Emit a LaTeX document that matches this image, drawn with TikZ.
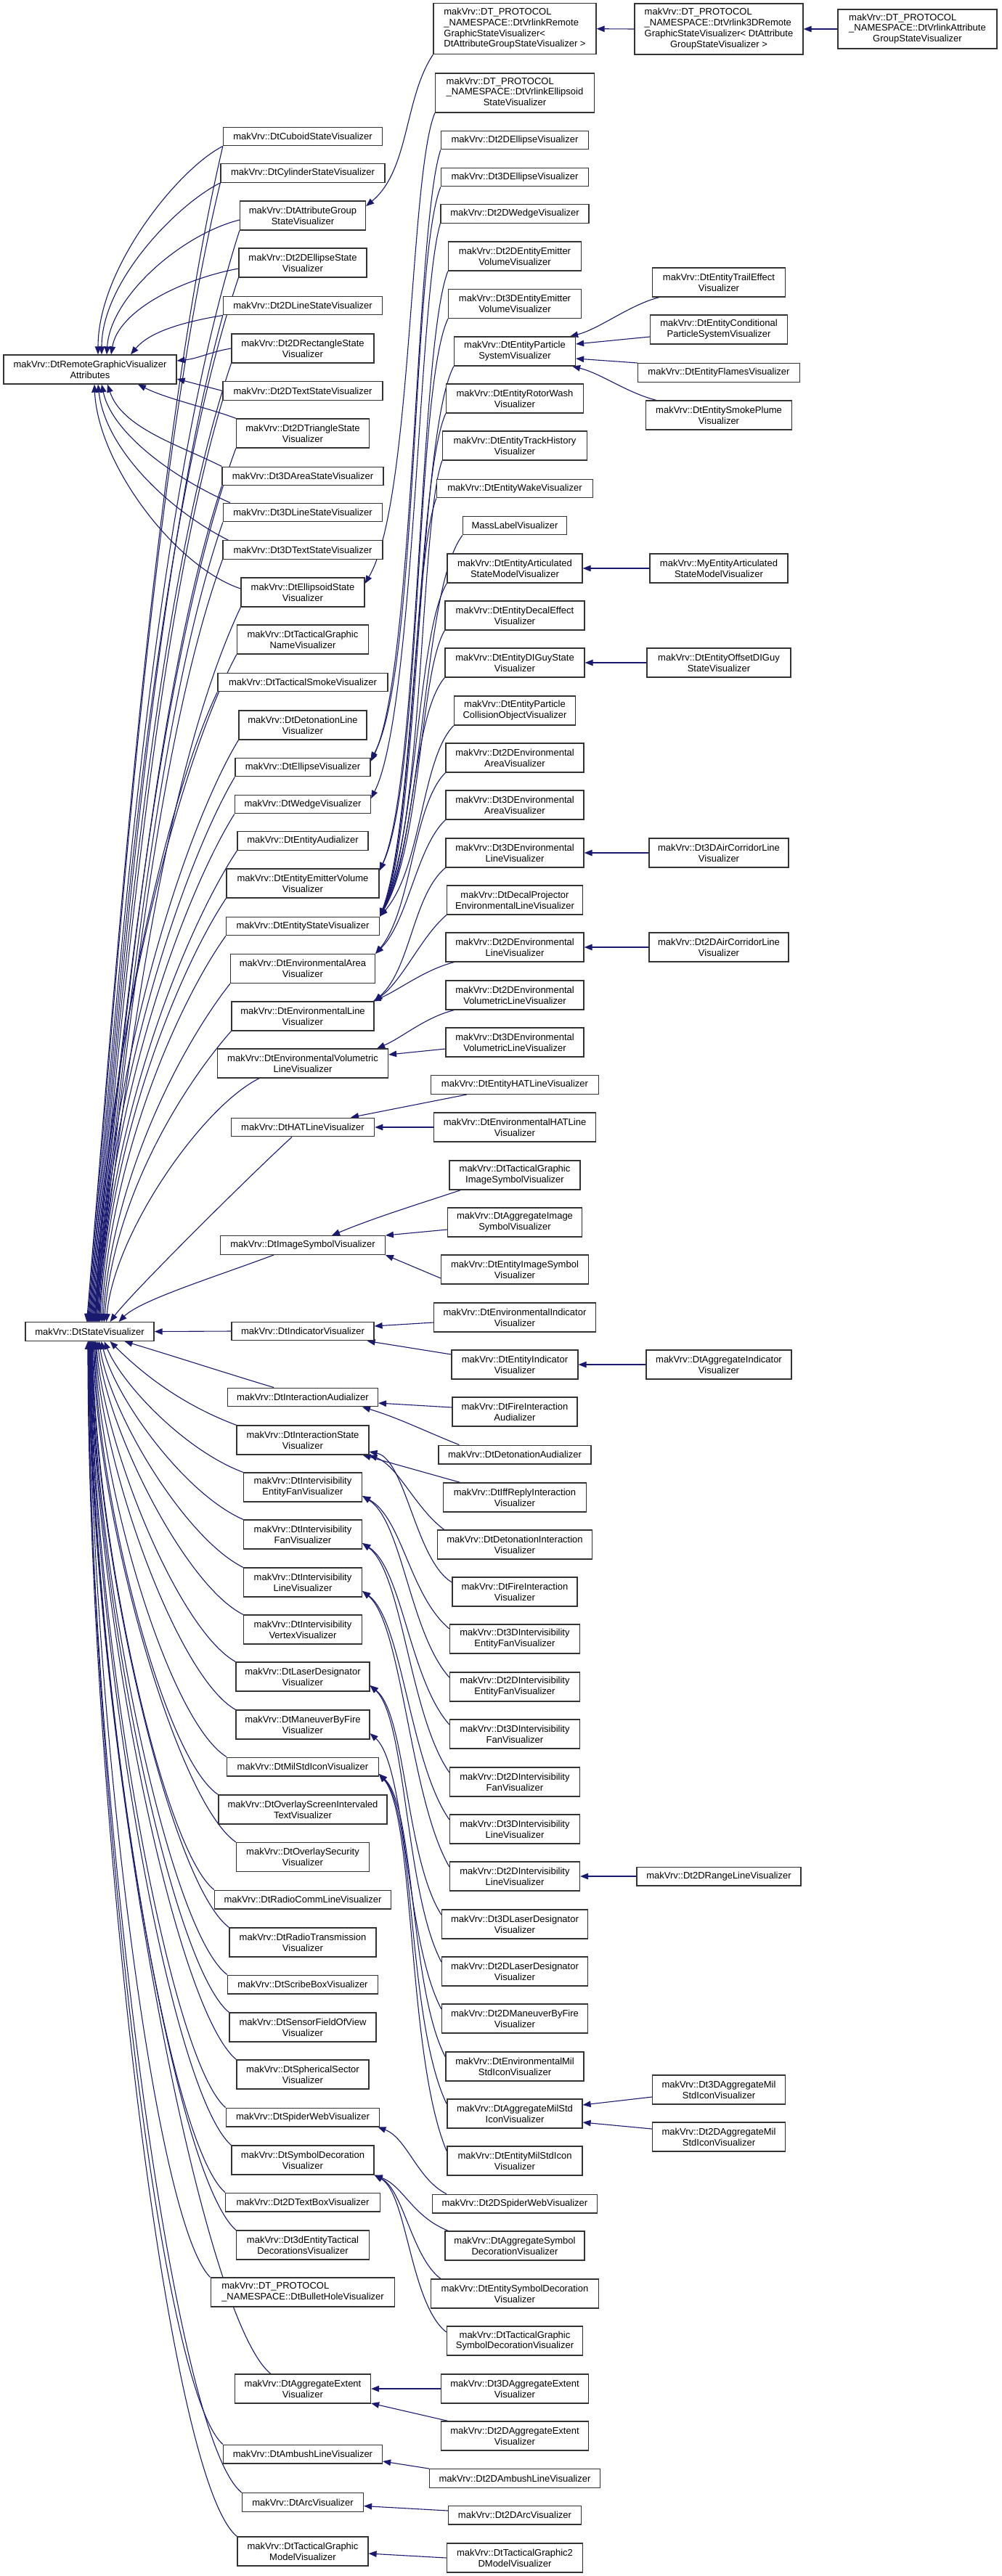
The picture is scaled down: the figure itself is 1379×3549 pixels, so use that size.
\documentclass[tikz,border=0pt]{standalone}
\usepackage{fontspec}
\setmainfont{Liberation Sans}
\usetikzlibrary{arrows.meta,backgrounds}
\definecolor{edgeblue}{HTML}{191970}
\newcommand{\mkdt}[1]{\begin{tabular}{@{}l@{}}#1\end{tabular}}
\newcommand{\mkcl}[1]{\multicolumn{1}{@{}c@{}}{#1}}
\tikzset{
  cls/.style={draw=black!80, fill=white, line width=1.25pt, inner sep=1pt, align=center, font=\fontsize{13}{14.8}\selectfont},
  n1/.style={minimum height=25.7},
  n2/.style={minimum height=40},
  n3/.style={minimum height=54},
  n4/.style={minimum height=70},
  inh/.style={draw=edgeblue, line width=1.1pt, -{Triangle[length=11pt,width=8.5pt]}},
}
\begin{document}
\begin{tikzpicture}[x=1pt,y=-1pt]
\useasboundingbox (0,0) rectangle (1379,3549);
% ---------- column 1
\node[cls,n2,minimum width=238] (rgva) at (124,509) {makVrv::DtRemoteGraphicVisualizer\\Attributes};
\node[cls,n1,minimum width=177] (sv) at (123.5,1834.5) {makVrv::DtStateVisualizer};
% ---------- column 2
\node[cls,n1,minimum width=219] (cub) at (417,188) {makVrv::DtCuboidStateVisualizer};
\node[cls,n1,minimum width=226] (cyl) at (417,238.5) {makVrv::DtCylinderStateVisualizer};
\node[cls,n2,minimum width=173] (agsv) at (417,297) {makVrv::DtAttributeGroup\\StateVisualizer};
\node[cls,n2,minimum width=176] (e2s) at (417,362) {makVrv::Dt2DEllipseState\\Visualizer};
\node[cls,n1,minimum width=219] (l2s) at (417,421) {makVrv::Dt2DLineStateVisualizer};
\node[cls,n2,minimum width=196] (r2s) at (417,480) {makVrv::Dt2DRectangleState\\Visualizer};
\node[cls,n1,minimum width=220] (t2s) at (417,538.5) {makVrv::Dt2DTextStateVisualizer};
\node[cls,n2,minimum width=183] (tr2s) at (417,597) {makVrv::Dt2DTriangleState\\Visualizer};
\node[cls,n1,minimum width=222] (a3s) at (417,656) {makVrv::Dt3DAreaStateVisualizer};
\node[cls,n1,minimum width=219] (l3s) at (417,706) {makVrv::Dt3DLineStateVisualizer};
\node[cls,n1,minimum width=220] (t3s) at (417,757.6) {makVrv::Dt3DTextStateVisualizer};
\node[cls,n2,minimum width=170] (ells) at (417,816) {makVrv::DtEllipsoidState\\Visualizer};
\node[cls,n2,minimum width=181] (tgn) at (417,881) {makVrv::DtTacticalGraphic\\NameVisualizer};
\node[cls,n1,minimum width=234] (tsm) at (417,940) {makVrv::DtTacticalSmokeVisualizer};
\node[cls,n2,minimum width=176] (detl) at (417,999) {makVrv::DtDetonationLine\\Visualizer};
\node[cls,n1,minimum width=186] (ellv) at (417,1057) {makVrv::DtEllipseVisualizer};
\node[cls,n1,minimum width=187] (wedv) at (417,1108) {makVrv::DtWedgeVisualizer};
\node[cls,n1,minimum width=180] (eaud) at (417,1158.6) {makVrv::DtEntityAudializer};
\node[cls,n2,minimum width=210] (eev) at (417,1217) {makVrv::DtEntityEmitterVolume\\Visualizer};
\node[cls,n1,minimum width=211] (esv) at (417,1276) {makVrv::DtEntityStateVisualizer};
\node[cls,n2,minimum width=199] (envA) at (417,1334.6) {makVrv::DtEnvironmentalArea\\Visualizer};
\node[cls,n2,minimum width=196] (envL) at (417,1400) {makVrv::DtEnvironmentalLine\\Visualizer};
\node[cls,n2,minimum width=235] (envV) at (417,1465) {makVrv::DtEnvironmentalVolumetric\\LineVisualizer};
\node[cls,n1,minimum width=197.5] (hat) at (417,1553) {makVrv::DtHATLineVisualizer};
\node[cls,n1,minimum width=226.6] (img) at (417,1715.5) {makVrv::DtImageSymbolVisualizer};
\node[cls,n1,minimum width=196] (ind) at (417,1834) {makVrv::DtIndicatorVisualizer};
\node[cls,n1,minimum width=206.7] (iaud) at (417,1925) {makVrv::DtInteractionAudializer};
\node[cls,n2,minimum width=181.8] (ist) at (417,1984) {makVrv::DtInteractionState\\Visualizer};
\node[cls,n2,minimum width=163] (ief) at (417,2049) {makVrv::DtIntervisibility\\EntityFanVisualizer};
\node[cls,n2,minimum width=163] (ifan) at (417,2114) {makVrv::DtIntervisibility\\FanVisualizer};
\node[cls,n2,minimum width=163] (iline) at (417,2180) {makVrv::DtIntervisibility\\LineVisualizer};
\node[cls,n2,minimum width=163] (ivert) at (417,2245) {makVrv::DtIntervisibility\\VertexVisualizer};
\node[cls,n2,minimum width=184] (laser) at (417,2310) {makVrv::DtLaserDesignator\\Visualizer};
\node[cls,n2,minimum width=184] (mbf) at (417,2376) {makVrv::DtManeuverByFire\\Visualizer};
\node[cls,n1,minimum width=208.6] (mil) at (417,2434) {makVrv::DtMilStdIconVisualizer};
\node[cls,n2,minimum width=232] (osi) at (417,2493) {makVrv::DtOverlayScreenIntervaled\\TextVisualizer};
\node[cls,n2,minimum width=183] (osec) at (417,2558.5) {makVrv::DtOverlaySecurity\\Visualizer};
\node[cls,n1,minimum width=243] (rcl) at (417,2617) {makVrv::DtRadioCommLineVisualizer};
\node[cls,n2,minimum width=202] (rtx) at (417,2676) {makVrv::DtRadioTransmission\\Visualizer};
\node[cls,n1,minimum width=207] (scr) at (417,2734) {makVrv::DtScribeBoxVisualizer};
\node[cls,n2,minimum width=202] (sfov) at (417,2793) {makVrv::DtSensorFieldOfView\\Visualizer};
\node[cls,n2,minimum width=182] (ssec) at (417,2858) {makVrv::DtSphericalSector\\Visualizer};
\node[cls,n1,minimum width=211.6] (spw) at (417,2917) {makVrv::DtSpiderWebVisualizer};
\node[cls,n2,minimum width=196] (sdec) at (417,2976) {makVrv::DtSymbolDecoration\\Visualizer};
\node[cls,n1,minimum width=212.8] (tb2) at (417,3034) {makVrv::Dt2DTextBoxVisualizer};
\node[cls,n2,minimum width=183] (tac3) at (417,3093) {makVrv::Dt3dEntityTactical\\DecorationsVisualizer};
\node[cls,n2,minimum width=253.7] (bul) at (417,3158) {\mkdt{makVrv::DT\_PROTOCOL\\\_NAMESPACE::DtBulletHoleVisualizer}};
\node[cls,n2,minimum width=187] (aext) at (417,3291) {makVrv::DtAggregateExtent\\Visualizer};
\node[cls,n1,minimum width=219] (amb) at (417,3381) {makVrv::DtAmbushLineVisualizer};
\node[cls,n1,minimum width=167] (arc) at (417,3447.5) {makVrv::DtArcVisualizer};
\node[cls,n2,minimum width=180] (tgm) at (417,3515) {makVrv::DtTacticalGraphic\\ModelVisualizer};
% ---------- column 3
\node[cls,n4,minimum width=224] (vrg) at (709,39.7) {\mkdt{makVrv::DT\_PROTOCOL\\\_NAMESPACE::DtVrlinkRemote\\GraphicStateVisualizer<\\\mkcl{DtAttributeGroupStateVisualizer >}}};
\node[cls,n3,minimum width=219] (vre) at (709,128) {\mkdt{makVrv::DT\_PROTOCOL\\\_NAMESPACE::DtVrlinkEllipsoid\\\mkcl{StateVisualizer}}};
\node[cls,n1,minimum width=203] (e2v) at (709,193) {makVrv::Dt2DEllipseVisualizer};
\node[cls,n1,minimum width=203] (e3v) at (709,244) {makVrv::Dt3DEllipseVisualizer};
\node[cls,n1,minimum width=204] (w2v) at (709,294.5) {makVrv::Dt2DWedgeVisualizer};
\node[cls,n2,minimum width=183] (eev2) at (709,353) {makVrv::Dt2DEntityEmitter\\VolumeVisualizer};
\node[cls,n2,minimum width=183] (eev3) at (709,418.6) {makVrv::Dt3DEntityEmitter\\VolumeVisualizer};
\node[cls,n2,minimum width=167] (eps) at (709,484) {makVrv::DtEntityParticle\\SystemVisualizer};
\node[cls,n2,minimum width=189] (rot) at (709,549) {makVrv::DtEntityRotorWash\\Visualizer};
\node[cls,n2,minimum width=199] (trk) at (709,614) {makVrv::DtEntityTrackHistory\\Visualizer};
\node[cls,n1,minimum width=215] (wake) at (709,673) {makVrv::DtEntityWakeVisualizer};
\node[cls,n1,minimum width=143] (mass) at (709,724) {MassLabelVisualizer};
\node[cls,n2,minimum width=186] (art) at (709,783) {makVrv::DtEntityArticulated\\StateModelVisualizer};
\node[cls,n2,minimum width=192] (decal) at (709,848) {makVrv::DtEntityDecalEffect\\Visualizer};
\node[cls,n2,minimum width=192] (digu) at (709,913) {makVrv::DtEntityDIGuyState\\Visualizer};
\node[cls,n2,minimum width=167] (pco) at (709,979) {makVrv::DtEntityParticle\\CollisionObjectVisualizer};
\node[cls,n2,minimum width=190] (ea2) at (709,1044) {makVrv::Dt2DEnvironmental\\AreaVisualizer};
\node[cls,n2,minimum width=190] (ea3) at (709,1109) {makVrv::Dt3DEnvironmental\\AreaVisualizer};
\node[cls,n2,minimum width=190] (el3) at (709,1175) {makVrv::Dt3DEnvironmental\\LineVisualizer};
\node[cls,n2,minimum width=187] (dpel) at (709,1240) {makVrv::DtDecalProjector\\EnvironmentalLineVisualizer};
\node[cls,n2,minimum width=190] (el2) at (709,1305) {makVrv::Dt2DEnvironmental\\LineVisualizer};
\node[cls,n2,minimum width=190] (ev2) at (709,1371) {makVrv::Dt2DEnvironmental\\VolumetricLineVisualizer};
\node[cls,n2,minimum width=190] (ev3) at (709,1436) {makVrv::Dt3DEnvironmental\\VolumetricLineVisualizer};
\node[cls,n1,minimum width=231] (ehat) at (709,1494.5) {makVrv::DtEntityHATLineVisualizer};
\node[cls,n2,minimum width=223] (envhat) at (709,1553) {makVrv::DtEnvironmentalHATLine\\Visualizer};
\node[cls,n2,minimum width=180] (tgis) at (709,1619) {makVrv::DtTacticalGraphic\\ImageSymbolVisualizer};
\node[cls,n2,minimum width=185] (aggis) at (709,1684) {makVrv::DtAggregateImage\\SymbolVisualizer};
\node[cls,n2,minimum width=203] (entis) at (709,1749) {makVrv::DtEntityImageSymbol\\Visualizer};
\node[cls,n2,minimum width=223] (envind) at (709,1815) {makVrv::DtEnvironmentalIndicator\\Visualizer};
\node[cls,n2,minimum width=174] (entind) at (709,1880) {makVrv::DtEntityIndicator\\Visualizer};
\node[cls,n2,minimum width=172] (fia) at (709,1945) {makVrv::DtFireInteraction\\Audializer};
\node[cls,n1,minimum width=210] (deta) at (709,2004) {makVrv::DtDetonationAudializer};
\node[cls,n2,minimum width=197] (iff) at (709,2063) {makVrv::DtIffReplyInteraction\\Visualizer};
\node[cls,n2,minimum width=213.5] (deti) at (709,2128) {makVrv::DtDetonationInteraction\\Visualizer};
\node[cls,n2,minimum width=172] (fiv) at (709,2193) {makVrv::DtFireInteraction\\Visualizer};
\node[cls,n2,minimum width=179] (ief3) at (709,2258) {makVrv::Dt3DIntervisibility\\EntityFanVisualizer};
\node[cls,n2,minimum width=179] (ief2) at (709,2324) {makVrv::Dt2DIntervisibility\\EntityFanVisualizer};
\node[cls,n2,minimum width=179] (ifan3) at (709,2389) {makVrv::Dt3DIntervisibility\\FanVisualizer};
\node[cls,n2,minimum width=179] (ifan2) at (709,2455) {makVrv::Dt2DIntervisibility\\FanVisualizer};
\node[cls,n2,minimum width=179] (il3) at (709,2520) {makVrv::Dt3DIntervisibility\\LineVisualizer};
\node[cls,n2,minimum width=179] (il2) at (709,2585) {makVrv::Dt2DIntervisibility\\LineVisualizer};
\node[cls,n2,minimum width=201] (ld3) at (709,2651) {makVrv::Dt3DLaserDesignator\\Visualizer};
\node[cls,n2,minimum width=201] (ld2) at (709,2716) {makVrv::Dt2DLaserDesignator\\Visualizer};
\node[cls,n2,minimum width=201] (mbf2) at (709,2781) {makVrv::Dt2DManeuverByFire\\Visualizer};
\node[cls,n2,minimum width=190] (envmil) at (709,2847) {makVrv::DtEnvironmentalMil\\StdIconVisualizer};
\node[cls,n2,minimum width=186] (aggmil) at (709,2912) {makVrv::DtAggregateMilStd\\IconVisualizer};
\node[cls,n2,minimum width=186] (entmil) at (709,2977) {makVrv::DtEntityMilStdIcon\\Visualizer};
\node[cls,n1,minimum width=227] (spw2) at (709,3036) {makVrv::Dt2DSpiderWebVisualizer};
\node[cls,n2,minimum width=192] (aggsd) at (709,3094) {makVrv::DtAggregateSymbol\\DecorationVisualizer};
\node[cls,n2,minimum width=231] (entsd) at (709,3160) {makVrv::DtEntitySymbolDecoration\\Visualizer};
\node[cls,n2,minimum width=187.5] (tgsd) at (709,3225) {makVrv::DtTacticalGraphic\\SymbolDecorationVisualizer};
\node[cls,n2,minimum width=203] (aext3) at (709,3291) {makVrv::Dt3DAggregateExtent\\Visualizer};
\node[cls,n2,minimum width=203] (aext2) at (709,3356) {makVrv::Dt2DAggregateExtent\\Visualizer};
\node[cls,n1,minimum width=235] (amb2) at (709,3414.5) {makVrv::Dt2DAmbushLineVisualizer};
\node[cls,n1,minimum width=183] (arc2) at (709,3465) {makVrv::Dt2DArcVisualizer};
\node[cls,n2,minimum width=187.5] (tg2d) at (709,3524) {makVrv::DtTacticalGraphic2\\DModelVisualizer};
% ---------- column 4
\node[cls,n4,minimum width=232] (v3d) at (990,40) {\mkdt{makVrv::DT\_PROTOCOL\\\_NAMESPACE::DtVrlink3DRemote\\GraphicStateVisualizer< DtAttribute\\\mkcl{GroupStateVisualizer >}}};
\node[cls,n2,minimum width=183] (trail) at (990,389) {makVrv::DtEntityTrailEffect\\Visualizer};
\node[cls,n2,minimum width=189] (cond) at (990,454) {makVrv::DtEntityConditional\\ParticleSystemVisualizer};
\node[cls,n1,minimum width=223] (flames) at (990,513.5) {makVrv::DtEntityFlamesVisualizer};
\node[cls,n2,minimum width=201] (smoke) at (990,572) {makVrv::DtEntitySmokePlume\\Visualizer};
\node[cls,n2,minimum width=190] (myart) at (990,783) {makVrv::MyEntityArticulated\\StateModelVisualizer};
\node[cls,n2,minimum width=198] (offdi) at (990,913) {makVrv::DtEntityOffsetDIGuy\\StateVisualizer};
\node[cls,n2,minimum width=192] (air3) at (990,1175) {makVrv::Dt3DAirCorridorLine\\Visualizer};
\node[cls,n2,minimum width=192] (air2) at (990,1305) {makVrv::Dt2DAirCorridorLine\\Visualizer};
\node[cls,n2,minimum width=200] (aggind) at (990,1880) {makVrv::DtAggregateIndicator\\Visualizer};
\node[cls,n1,minimum width=226] (range) at (990,2585) {makVrv::Dt2DRangeLineVisualizer};
\node[cls,n2,minimum width=183] (aggmil3) at (990,2879) {makVrv::Dt3DAggregateMil\\StdIconVisualizer};
\node[cls,n2,minimum width=183] (aggmil2) at (990,2944) {makVrv::Dt2DAggregateMil\\StdIconVisualizer};
% ---------- column 5
\node[cls,n3,minimum width=219] (vag) at (1263.5,40) {\mkdt{makVrv::DT\_PROTOCOL\\\_NAMESPACE::DtVrlinkAttribute\\\mkcl{GroupStateVisualizer}}};

\begin{pgfonlayer}{background}
\fill[white] (0,0) rectangle (1379,3549);
% ---- to RemoteGraphicVisualizerAttributes
\draw[inh] (cub.south west) .. controls +(-60,30) and +(0,-120) .. ([xshift=11pt]rgva.north);
\draw[inh] (cyl.south west) .. controls +(-60,30) and +(0,-100) .. ([xshift=16pt]rgva.north);
\draw[inh] ([yshift=-6pt]agsv.west) .. controls +(-80,20) and +(5,-80) .. ([xshift=23pt]rgva.north);
\draw[inh] ([yshift=-8pt]e2s.west) .. controls +(-80,15) and +(10,-60) .. ([xshift=29pt]rgva.north);
\draw[inh] (l2s.south west) .. controls +(-60,10) and +(25,-30) .. ([xshift=56pt]rgva.north);
\draw[inh] (r2s.west) .. controls +(-30,5) and +(30,-3) .. ([yshift=12pt]rgva.east);
\draw[inh] (t2s.west) -- ([yshift=-13pt]rgva.east);
\draw[inh] (tr2s.north west) .. controls +(-40,-15) and +(40,20) .. ([xshift=66pt]rgva.south);
\draw[inh] (a3s.north west) .. controls +(-60,-30) and +(20,60) .. ([xshift=24pt]rgva.south);
\draw[inh] ([xshift=10pt]l3s.north west) .. controls +(-70,-30) and +(15,70) .. ([xshift=16pt]rgva.south);
\draw[inh] ([xshift=8pt]t3s.north west) .. controls +(-80,-40) and +(10,90) .. ([xshift=11pt]rgva.south);
\draw[inh] ([yshift=5pt]ells.west) .. controls +(-90,-30) and +(5,110) .. ([xshift=6pt]rgva.south);
% ---- to StateVisualizer (from above)
\draw[inh] (cub.south west) .. controls +(-95,405) and +(40,-486) .. ([xshift=-4pt]sv.north);
\draw[inh] (cyl.south west) .. controls +(-95,392) and +(40,-471) .. ([xshift=-3pt]sv.north);
\draw[inh] (agsv.south west) .. controls +(-120,376) and +(40,-452) .. ([xshift=-2pt]sv.north);
\draw[inh] (e2s.south west) .. controls +(-120,360) and +(40,-432) .. ([xshift=-1pt]sv.north);
\draw[inh] (l2s.south west) .. controls +(-95,347) and +(40,-416) .. (sv.north);
\draw[inh] (r2s.south west) .. controls +(-110,330) and +(40,-397) .. ([xshift=1pt]sv.north);
\draw[inh] (t2s.south west) .. controls +(-95,318) and +(40,-381) .. ([xshift=2pt]sv.north);
\draw[inh] (tr2s.south west) .. controls +(-110,301) and +(40,-362) .. ([xshift=3pt]sv.north);
\draw[inh] (a3s.south west) .. controls +(-95,288) and +(40,-346) .. ([xshift=4pt]sv.north);
\draw[inh] (l3s.south west) .. controls +(-95,276) and +(40,-331) .. ([xshift=5pt]sv.north);
\draw[inh] (t3s.south west) .. controls +(-95,263) and +(40,-316) .. ([xshift=6pt]sv.north);
\draw[inh] (ells.south west) .. controls +(-115,246) and +(40,-296) .. ([xshift=7pt]sv.north);
\draw[inh] (tgn.south west) .. controls +(-70,130) and +(15,-414) .. ([xshift=8pt]sv.north);
\draw[inh] (tsm.south west) .. controls +(-60,124) and +(15,-391) .. ([xshift=9pt]sv.north);
\draw[inh] (detl.south west) .. controls +(-70,116) and +(15,-361) .. ([xshift=10pt]sv.north);
\draw[inh] (ellv.south west) .. controls +(-65,110) and +(15,-338) .. ([xshift=11pt]sv.north);
\draw[inh] (wedv.south west) .. controls +(-65,104) and +(15,-316) .. ([xshift=12pt]sv.north);
\draw[inh] (eaud.south west) .. controls +(-65,98) and +(15,-293) .. ([xshift=13pt]sv.north);
\draw[inh] (eev.south west) .. controls +(-60,90) and +(15,-263) .. ([xshift=14pt]sv.north);
\draw[inh] (esv.south west) .. controls +(-60,84) and +(15,-240) .. ([xshift=16pt]sv.north);
\draw[inh] (envA.south west) .. controls +(-60,76) and +(15,-210) .. ([xshift=18pt]sv.north);
\draw[inh] (envL.south west) .. controls +(-60,68) and +(15,-181) .. ([xshift=20pt]sv.north);
\draw[inh] ([xshift=-60pt]envV.south) .. controls +(-80,40) and +(10,-120) .. ([xshift=23pt]sv.north);
\draw[inh] ([xshift=-15pt]hat.south) .. controls +(-60,55) and +(30,-40) .. ([xshift=28pt]sv.north);
\draw[inh] ([xshift=-40pt]img.south) .. controls +(-80,30) and +(30,-30) .. ([xshift=40pt]sv.north);
\draw[inh] (ind.west) -- (sv.east);
% ---- to StateVisualizer (from below)
\draw[inh] ([xshift=-40pt]iaud.north) .. controls +(-60,-18) and +(60,18) .. ([xshift=48pt]sv.south);
\draw[inh] (ist.north west) .. controls +(-80,-30) and +(40,40) .. ([xshift=28pt]sv.south);
\draw[inh] (ief.north west) .. controls +(-80,-30) and +(25,60) .. ([xshift=20pt]sv.south);
\draw[inh] (ifan.north west) .. controls +(-80,-35) and +(20,80) .. ([xshift=16pt]sv.south);
\draw[inh] (iline.north west) .. controls +(-80,-40) and +(15,100) .. ([xshift=13pt]sv.south);
\draw[inh] (ivert.north west) .. controls +(-80,-40) and +(12,120) .. ([xshift=11pt]sv.south);
\draw[inh] (laser.north west) .. controls +(-80,-45) and +(10,140) .. ([xshift=9pt]sv.south);
\draw[inh] (mbf.north west) .. controls +(-80,-45) and +(8,170) .. ([xshift=8pt]sv.south);
\draw[inh] (mil.north west) .. controls +(-80,-50) and +(7,200) .. ([xshift=7pt]sv.south);
\draw[inh] (osi.north west) .. controls +(-75,-50) and +(6,220) .. ([xshift=6pt]sv.south);
\draw[inh] (osec.north west) .. controls +(-80,-55) and +(5,250) .. ([xshift=5pt]sv.south);
\draw[inh] (rcl.north west) .. controls +(-70,-55) and +(4,280) .. ([xshift=4pt]sv.south);
\draw[inh] (rtx.north west) .. controls +(-80,-60) and +(4,300) .. ([xshift=3.5pt]sv.south);
\draw[inh] (scr.north west) .. controls +(-80,-60) and +(3,320) .. ([xshift=3pt]sv.south);
\draw[inh] (sfov.north west) .. controls +(-80,-65) and +(3,340) .. ([xshift=2.5pt]sv.south);
\draw[inh] (ssec.north west) .. controls +(-85,-70) and +(2,360) .. ([xshift=2pt]sv.south);
\draw[inh] (spw.north west) .. controls +(-80,-70) and +(2,390) .. ([xshift=1.5pt]sv.south);
\draw[inh] (sdec.north west) .. controls +(-85,-75) and +(1,410) .. ([xshift=1pt]sv.south);
\draw[inh] (tb2.north west) .. controls +(-85,-75) and +(1,430) .. ([xshift=0.5pt]sv.south);
\draw[inh] (tac3.north west) .. controls +(-90,-80) and +(0,450) .. (sv.south);
\draw[inh] (bul.north west) .. controls +(-80,-80) and +(0,470) .. ([xshift=-0.5pt]sv.south);
\draw[inh] ([xshift=50pt]aext.north west) .. controls +(-100,-80) and +(0,520) .. ([xshift=-1pt]sv.south);
\draw[inh] (amb.north west) .. controls +(-90,-80) and +(0,560) .. ([xshift=-1.5pt]sv.south);
\draw[inh] (arc.north west) .. controls +(-100,-80) and +(0,580) .. ([xshift=-2pt]sv.south);
\draw[inh] (tgm.north west) .. controls +(-100,-80) and +(0,600) .. ([xshift=-2.5pt]sv.south);
% ---- column 3 to column 2
\draw[inh] (vrg.south west) .. controls +(-40,60) and +(60,-50) .. ([yshift=13pt]agsv.east);
\draw[inh] (vre.south west) .. controls +(-35,85) and +(65,-110) .. ([yshift=12pt]ells.east);
\draw[inh] (e2v.south west) .. controls +(-35,104) and +(60,-120) .. ([yshift=8pt]ellv.east);
\draw[inh] (e3v.south west) .. controls +(-40,99) and +(65,-120) .. ([yshift=10pt]ellv.east);
\draw[inh] (w2v.south west) .. controls +(-30,99) and +(60,-120) .. ([yshift=8pt]wedv.east);
\draw[inh] (eev2.south west) .. controls +(-40,103) and +(55,-120) .. ([yshift=-3pt]eev.north east);
\draw[inh] (eev3.south west) .. controls +(-45,96) and +(58,-120) .. ([yshift=-3pt]eev.north east);
\draw[inh] (eps.south west) .. controls +(-50,96) and +(55,-120) .. (esv.north east);
\draw[inh] (rot.south west) .. controls +(-40,89) and +(50,-120) .. (esv.north east);
\draw[inh] (trk.south west) .. controls +(-30,83) and +(60,-120) .. (esv.north east);
\draw[inh] (wake.south west) .. controls +(-30,78) and +(45,-120) .. (esv.north east);
\draw[inh] (mass.south west) .. controls +(-55,73) and +(62,-120) .. (esv.north east);
\draw[inh] (art.south west) .. controls +(-40,66) and +(52,-115) .. (esv.north east);
\draw[inh] (decal.south west) .. controls +(-35,60) and +(58,-99) .. (esv.north east);
\draw[inh] (digu.south west) .. controls +(-45,53) and +(48,-83) .. (esv.north east);
\draw[inh] (pco.south west) .. controls +(-45,46) and +(58,-66) .. (esv.north east);
\draw[inh] (ea2.south west) .. controls +(-45,45) and +(50,-60) .. (envA.north east);
\draw[inh] (ea3.south west) .. controls +(-40,38) and +(45,-45) .. (envA.north east);
\draw[inh] (el3.south west) .. controls +(-45,38) and +(50,-45) .. (envL.north east);
\draw[inh] (dpel.south west) .. controls +(-35,30) and +(40,-30) .. (envL.north east);
\draw[inh] ([xshift=12pt]el2.south west) .. controls +(-40,10) and +(35,-15) .. ([xshift=-2pt]envL.north east);
\draw[inh] ([xshift=12pt]ev2.south west) .. controls +(-40,10) and +(35,-15) .. ([xshift=-16pt]envV.north east);
\draw[inh] ([yshift=-9pt]ev3.west) -- ([yshift=12pt]envV.east);
\draw[inh] ([xshift=50pt]ehat.south west) -- ([xshift=66pt]hat.north);
\draw[inh] (envhat.west) -- (hat.east);
\draw[inh] ([xshift=16pt]tgis.south west) .. controls +(-60,20) and +(60,-25) .. ([xshift=40pt]img.north);
\draw[inh] ([yshift=-10pt]aggis.west) -- (img.north east);
\draw[inh] ([yshift=-12pt]entis.west) -- (img.south east);
\draw[inh] ([yshift=-7pt]envind.west) -- ([yshift=7pt]ind.east);
\draw[inh] ([yshift=14pt]entind.west) -- ([xshift=-10pt]ind.south east);
\draw[inh] ([yshift=6pt]fia.west) -- ([yshift=-8pt]iaud.east);
\draw[inh] ([xshift=29pt]deta.north west) .. controls +(-50,-20) and +(50,15) .. ([xshift=-22pt]iaud.south east);
\draw[inh] ([xshift=24pt]iff.north west) -- ([xshift=-9pt]ist.south east);
\draw[inh] ([xshift=10pt]deti.north west) .. controls +(-40,-30) and +(40,15) .. (ist.south east);
\draw[inh] ([yshift=13pt]fiv.west) .. controls +(-50,-30) and +(50,10) .. ([yshift=-16pt]ist.east);
\draw[inh] ([yshift=14pt]ief3.west) .. controls +(-55,-46) and +(55,30) .. ([yshift=-12pt]ief.east);
\draw[inh] ([yshift=13pt]ief2.west) .. controls +(-55,-62) and +(55,35) .. ([yshift=-12pt]ief.east);
\draw[inh] ([yshift=13pt]ifan3.west) .. controls +(-55,-62) and +(55,35) .. ([yshift=-12pt]ifan.east);
\draw[inh] ([yshift=13pt]ifan2.west) .. controls +(-55,-79) and +(55,40) .. ([yshift=-12pt]ifan.east);
\draw[inh] ([yshift=13pt]il3.west) .. controls +(-55,-79) and +(55,40) .. ([yshift=-12pt]iline.east);
\draw[inh] ([yshift=13pt]il2.west) .. controls +(-55,-95) and +(55,45) .. ([yshift=-12pt]iline.east);
\draw[inh] ([yshift=13pt]ld3.west) .. controls +(-50,-79) and +(50,40) .. ([yshift=-12pt]laser.east);
\draw[inh] ([yshift=13pt]ld2.west) .. controls +(-50,-95) and +(50,45) .. ([yshift=-12pt]laser.east);
\draw[inh] ([yshift=13pt]mbf2.west) .. controls +(-50,-95) and +(50,45) .. ([yshift=-12pt]mbf.east);
\draw[inh] ([yshift=13pt]envmil.west) .. controls +(-50,-97) and +(50,46) .. ([yshift=-10pt]mil.east);
\draw[inh] ([yshift=13pt]aggmil.west) .. controls +(-55,-114) and +(50,51) .. ([yshift=-10pt]mil.east);
\draw[inh] ([yshift=13pt]entmil.west) .. controls +(-55,-130) and +(50,57) .. ([yshift=-10pt]mil.east);
\draw[inh] ([xshift=20pt]spw2.north west) .. controls +(-40,-20) and +(40,15) .. ([xshift=-3pt]spw.south east);
\draw[inh] ([xshift=5pt]aggsd.north west) .. controls +(-50,-20) and +(40,15) .. (sdec.south east);
\draw[inh] ([xshift=14pt]entsd.north west) .. controls +(-40,-30) and +(40,20) .. (sdec.south east);
\draw[inh] ([yshift=12pt]tgsd.west) .. controls +(-50,-40) and +(45,25) .. (sdec.south east);
\draw[inh] (aext3.west) -- (aext.east);
\draw[inh] ([xshift=10pt]aext2.north west) -- ([yshift=-20pt]aext.east);
\draw[inh] (amb2.north west) -- ([yshift=-10pt]amb.east);
\draw[inh] ([yshift=6pt]arc2.west) -- ([yshift=-5pt]arc.east);
\draw[inh] (tg2d.west) -- ([yshift=-3pt]tgm.east);
% ---- column 4/5 to column 3/4
\draw[inh] (v3d.west) -- (vrg.east);
\draw[inh] (vag.west) -- (v3d.east);
\draw[inh] ([xshift=10pt]trail.south west) .. controls +(-40,10) and +(40,-10) .. ([xshift=-8pt]eps.north east);
\draw[inh] ([yshift=-10pt]cond.west) -- ([yshift=10pt]eps.east);
\draw[inh] (flames.north west) -- ([yshift=-10pt]eps.east);
\draw[inh] ([xshift=15pt]smoke.north west) .. controls +(-40,-10) and +(40,10) .. ([xshift=-5pt]eps.south east);
\draw[inh] (myart.west) -- (art.east);
\draw[inh] (offdi.west) -- (digu.east);
\draw[inh] (air3.west) -- (el3.east);
\draw[inh] (air2.west) -- (el2.east);
\draw[inh] (aggind.west) -- (entind.east);
\draw[inh] (range.west) -- (il2.east);
\draw[inh] ([yshift=-10pt]aggmil3.west) -- ([yshift=12pt]aggmil.east);
\draw[inh] ([yshift=11pt]aggmil2.west) -- ([yshift=-12pt]aggmil.east);
\end{pgfonlayer}
\end{tikzpicture}
\end{document}
